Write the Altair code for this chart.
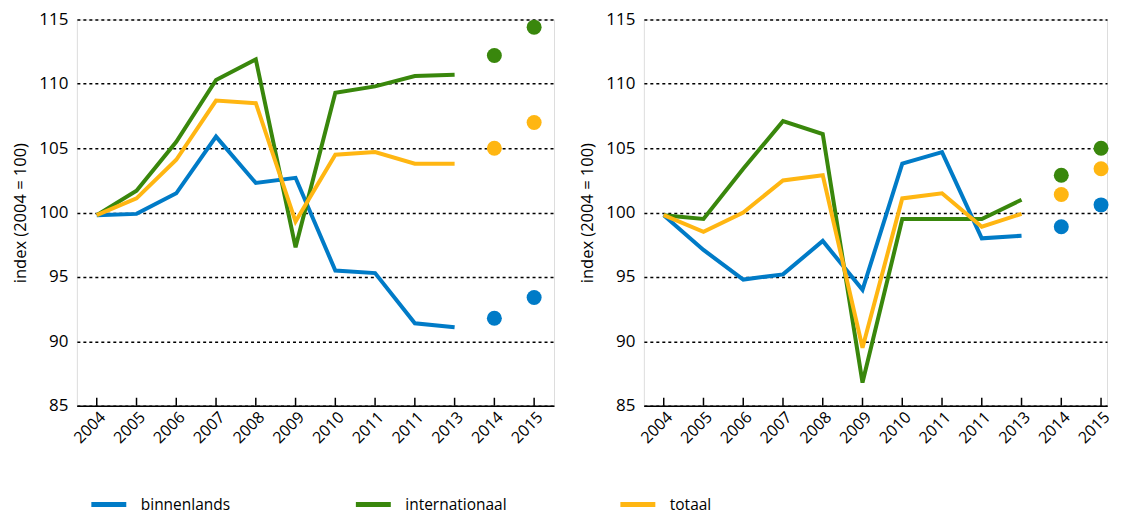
import altair as alt
import pandas as pd

# ---- data ----
years = ["2004", "2005", "2006", "2007", "2008", "2009", "2010", "2011", "2011", "2013", "2014", "2015"]
series = ["binnenlands", "internationaal", "totaal"]
colors = ["#007BC7", "#39870C", "#FFB612"]

# left panel (lines 2004..2013, dots 2014, 2015)
left_binnenlands = [99.8, 99.9, 101.5, 105.9, 102.3, 102.7, 95.5, 95.3, 91.4, 91.1]
left_internationaal = [99.8, 101.7, 105.5, 110.3, 111.9, 97.3, 109.3, 109.8, 110.6, 110.7]
left_totaal = [99.8, 101.1, 104.1, 108.7, 108.5, 99.3, 104.5, 104.7, 103.8, 103.8]
left_binnenlands_dots = [91.8, 93.4]
left_internationaal_dots = [112.2, 114.4]
left_totaal_dots = [105.0, 107.0]

# right panel
right_binnenlands = [99.8, 97.1, 94.8, 95.2, 97.8, 94.0, 103.8, 104.7, 98.0, 98.2]
right_internationaal = [99.8, 99.5, 103.4, 107.1, 106.1, 86.8, 99.5, 99.5, 99.5, 101.0]
right_totaal = [99.8, 98.5, 100.0, 102.5, 102.9, 89.5, 101.1, 101.5, 98.9, 99.9]
right_binnenlands_dots = [98.9, 100.6]
right_internationaal_dots = [102.9, 105.0]
right_totaal_dots = [101.4, 103.4]

FONT = "Open Sans"


def make_frames(lines, dots):
    lrows, prows = [], []
    for s, vals in zip(series, lines):
        for i, v in enumerate(vals):
            lrows.append({"pos": i, "series": s, "value": v})
    for s, vals in zip(series, dots):
        for j, v in enumerate(vals):
            prows.append({"pos": len(lines[0]) + j, "series": s, "value": v})
    return pd.DataFrame(lrows), pd.DataFrame(prows)


label_expr = "[" + ",".join("'%s'" % y for y in years) + "][datum.value]"
tick_df = pd.DataFrame({"pos": list(range(len(years)))})

legend = alt.Legend(
    title=None,
    orient="none",
    legendX=12,
    legendY=466,
    direction="horizontal",
    columns=3,
    gridAlign="all",
    columnPadding=103,
    symbolType="stroke",
    symbolSize=1225,
    symbolStrokeWidth=5,
    labelFontSize=15.5,
    labelFont=FONT,
    labelColor="black",
    labelOffset=12,
    padding=0,
)


def panel(lines, dots, width, xmax):
    ldf, pdf = make_frames(lines, dots)
    height = 387
    x = alt.X(
        "pos:Q",
        scale=alt.Scale(domain=[-0.5, xmax], nice=False, zero=False),
        axis=alt.Axis(
            values=list(range(len(years))),
            labelExpr=label_expr,
            labelAngle=-45,
            labelAlign="right",
            labelBaseline="top",
            labelFontSize=16,
            labelFont=FONT,
            labelColor="black",
            labelPadding=3,
            labelOverlap=False,
            labelBound=False,
            labelFlush=False,
            ticks=False,
            grid=False,
            domainColor="black",
            domainWidth=1.5,
            title=None,
        ),
    )
    y = alt.Y(
        "value:Q",
        scale=alt.Scale(domain=[85, 115], nice=False, zero=False),
        axis=alt.Axis(
            values=[85, 90, 95, 100, 105, 110, 115],
            grid=True,
            gridColor="black",
            gridDash=[3, 3],
            gridWidth=1.5,
            domain=False,
            ticks=False,
            labelFontSize=17,
            labelFont=FONT,
            labelColor="black",
            labelPadding=9,
            title="index (2004 = 100)",
            titleFont=FONT,
            titleFontSize=16.5,
            titleFontWeight="normal",
            titleColor="black",
            titlePadding=10,
        ),
    )
    color = alt.Color("series:N", scale=alt.Scale(domain=series, range=colors), legend=legend)
    line = alt.Chart(ldf).mark_line(strokeWidth=4).encode(x=x, y=y, color=color, detail="series:N")
    pts = alt.Chart(pdf).mark_circle(size=225, opacity=1).encode(x=x, y=y, color=color)
    ticks = alt.Chart(tick_df).mark_rule(color="black", strokeWidth=1.5).encode(
        x=x, y=alt.value(height), y2=alt.value(height - 8)
    )
    return alt.layer(line, pts, ticks).properties(width=width, height=height)


left = panel(
    [left_binnenlands, left_internationaal, left_totaal],
    [left_binnenlands_dots, left_internationaal_dots, left_totaal_dots],
    478,
    11.5,
)
right = panel(
    [right_binnenlands, right_internationaal, right_totaal],
    [right_binnenlands_dots, right_internationaal_dots, right_totaal_dots],
    464,
    11.15,
)

chart = (
    alt.hconcat(left, right, spacing=24)
    .properties(padding={"left": 4, "top": 1, "right": 0, "bottom": 0})
    .configure_view(stroke="transparent", strokeWidth=0)
    .configure(font=FONT)
)

chart.save("out.html", embed_options={"renderer": "svg", "actions": False})
